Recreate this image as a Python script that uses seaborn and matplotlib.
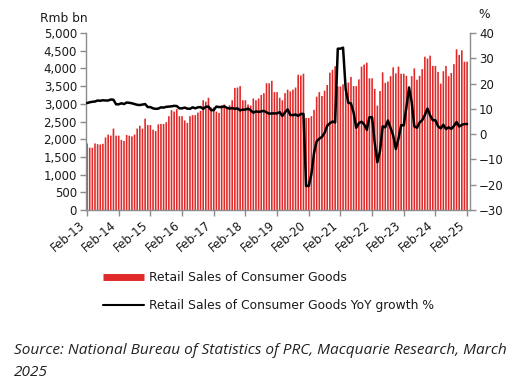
import numpy as np
import pandas as pd
import matplotlib
matplotlib.use('Agg')
import matplotlib.pyplot as plt
from matplotlib.lines import Line2D
import matplotlib.transforms as mtransforms
import seaborn as sns

# ---- data, monthly from Feb-13 to Feb-25 ----
sales_2013 = [1880, 1760, 1760, 1880, 1860, 1850, 1870, 2050, 2130, 2100, 2300]
sales_2014 = [2100, 2100, 1980, 1950, 2120, 2100, 2080, 2130, 2300, 2380, 2300, 2580]
sales_2015 = [2400, 2400, 2270, 2230, 2420, 2430, 2430, 2480, 2650, 2820, 2780, 2850]
sales_2016 = [2650, 2650, 2530, 2460, 2650, 2680, 2680, 2750, 2800, 3100, 3060, 3170]
sales_2017 = [2900, 2900, 2780, 2740, 2960, 2980, 2900, 2960, 3100, 3450, 3460, 3500]
sales_2018 = [3100, 3100, 2980, 2950, 3150, 3100, 3150, 3250, 3300, 3580, 3580, 3650]
sales_2019 = [3330, 3330, 3170, 3100, 3300, 3400, 3350, 3400, 3460, 3820, 3800, 3850]
sales_2020 = [2600, 2600, 2650, 2830, 3200, 3330, 3220, 3370, 3530, 3880, 3960, 4060]
sales_2021 = [3490, 3490, 3550, 3320, 3600, 3760, 3500, 3500, 3690, 4050, 4110, 4160]
sales_2022 = [3720, 3720, 3420, 2950, 3360, 3890, 3590, 3630, 3780, 4030, 3860, 4050]
sales_2023 = [3850, 3850, 3790, 3490, 3780, 4000, 3680, 3790, 3980, 4330, 4280, 4360]
sales_2024 = [4070, 4070, 3900, 3570, 3920, 4070, 3780, 3870, 4120, 4540, 4380, 4510]
sales_2025 = [4190, 4190]

yoy_2013 = [12.3, 12.6, 12.8, 12.9, 13.3, 13.2, 13.4, 13.3, 13.3, 13.7, 13.6]
yoy_2014 = [11.8, 11.8, 12.2, 11.9, 12.5, 12.4, 12.2, 11.9, 11.6, 11.5, 11.7, 11.9]
yoy_2015 = [10.7, 10.7, 10.2, 10.0, 10.1, 10.6, 10.5, 10.8, 10.9, 11.0, 11.2, 11.1]
yoy_2016 = [10.2, 10.2, 10.5, 10.1, 10.0, 10.6, 10.2, 10.6, 10.7, 10.0, 10.8, 10.9]
yoy_2017 = [9.5, 9.5, 10.9, 10.7, 10.7, 11.0, 10.4, 10.1, 10.3, 10.0, 10.2, 9.4]
yoy_2018 = [9.7, 9.7, 10.1, 9.4, 8.5, 9.0, 8.8, 9.0, 9.2, 8.6, 8.1, 8.2]
yoy_2019 = [8.2, 8.2, 8.7, 7.2, 8.6, 9.8, 7.6, 7.5, 7.8, 7.2, 8.0, 8.0]
yoy_2020 = [-20.5, -20.5, -15.8, -7.5, -2.8, -1.8, -1.1, 0.5, 3.3, 4.3, 5.0, 4.6]
yoy_2021 = [33.8, 33.8, 34.2, 17.7, 12.4, 12.1, 8.5, 2.5, 4.4, 4.9, 3.9, 1.7]
yoy_2022 = [6.7, 6.7, -3.5, -11.1, -6.7, 3.1, 2.7, 5.4, 2.5, -0.5, -5.9, -1.8]
yoy_2023 = [3.5, 3.5, 10.6, 18.4, 12.7, 3.1, 2.5, 4.6, 5.5, 7.6, 10.1, 7.4]
yoy_2024 = [5.5, 5.5, 3.1, 2.3, 3.7, 2.0, 2.7, 2.1, 3.2, 4.8, 3.0, 3.7]
yoy_2025 = [4.0, 4.0]

tick_labels = ['Feb-13', 'Feb-14', 'Feb-15', 'Feb-16', 'Feb-17', 'Feb-18', 'Feb-19',
               'Feb-20', 'Feb-21', 'Feb-22', 'Feb-23', 'Feb-24', 'Feb-25']

bar_label = 'Retail Sales of Consumer Goods'
line_label = 'Retail Sales of Consumer Goods YoY growth %'
source_line1 = 'Source: National Bureau of Statistics of PRC, Macquarie Research, March'
source_line2 = '2025'

sales = (sales_2013 + sales_2014 + sales_2015 + sales_2016 + sales_2017 + sales_2018
         + sales_2019 + sales_2020 + sales_2021 + sales_2022 + sales_2023 + sales_2024 + sales_2025)
yoy = (yoy_2013 + yoy_2014 + yoy_2015 + yoy_2016 + yoy_2017 + yoy_2018
       + yoy_2019 + yoy_2020 + yoy_2021 + yoy_2022 + yoy_2023 + yoy_2024 + yoy_2025)

months = pd.date_range('2013-02-01', periods=len(sales), freq='MS').strftime('%b-%y')
df = pd.DataFrame({'month': months, 'sales': sales, 'yoy': yoy})
df['pos'] = np.arange(len(df))

# ---- style ----
sns.set_style('ticks')
plt.rcParams['font.family'] = ['DejaVu Sans']
RED = '#e02a2a'
GREY = '#8c8c8c'
TXT = '#1a1a1a'

fig = plt.figure(figsize=(5.23, 3.84), dpi=100)
ax = fig.add_axes([86 / 523, 1 - 210 / 384, (470 - 86) / 523, (210 - 33) / 384])

sns.barplot(data=df, x='month', y='sales', color=RED, saturation=1, width=0.62,
            linewidth=0, ax=ax)
for p in ax.patches:
    p.set_snap(False)
ax2 = ax.twinx()
sns.lineplot(data=df, x='pos', y='yoy', color='black', lw=1.8, ax=ax2)

ax.set_xlim(-0.4, len(df) + 0.1)
ax.set_ylim(0, 5000)
ax.set_yticks(np.arange(0, 5001, 500))
ax.set_yticklabels([f'{v:,}' for v in range(0, 5001, 500)])
ax2.set_ylim(-30, 40)
ax2.set_yticks(np.arange(-30, 41, 10))

ax.set_xticks(np.arange(0, len(df), 12))
ax.set_xticklabels(tick_labels, rotation=40, ha='right')
shift = mtransforms.ScaledTranslation(10 / 100, 0, fig.dpi_scale_trans)
for lab in ax.get_xticklabels():
    lab.set_transform(lab.get_transform() + shift)
ax.set_xlabel('')
ax.set_ylabel('')
ax2.set_xlabel('')
ax2.set_ylabel('')

for a in (ax, ax2):
    a.spines['top'].set_visible(False)
    for s in ('left', 'right', 'bottom'):
        a.spines[s].set_color(GREY)
        a.spines[s].set_linewidth(1.0)
    a.tick_params(colors=GREY, labelcolor=TXT, labelsize=8.5, length=4, width=1, pad=2.5)
ax.spines['right'].set_visible(False)
ax2.spines['left'].set_visible(False)
ax2.spines['bottom'].set_visible(False)

fig.text(40 / 523, 1 - 19 / 384, 'Rmb bn', fontsize=8.8, color=TXT, ha='left', va='center')
fig.text(478 / 523, 1 - 14 / 384, '%', fontsize=8.8, color=TXT, ha='left', va='center')

handles = [Line2D([0], [0], color=RED, lw=5, solid_capstyle='butt'),
           Line2D([0], [0], color='black', lw=1.5)]
leg = fig.legend(handles, [bar_label, line_label], loc='upper left',
                 bbox_to_anchor=(103 / 523, 1 - 271 / 384), frameon=False, fontsize=8.9,
                 handlelength=3.3, handletextpad=0.4, labelspacing=1.2, borderaxespad=0,
                 borderpad=0)
for t in leg.get_texts():
    t.set_color(TXT)

fig.text(14 / 523, 1 - 350 / 384, source_line1, fontsize=11.1, style='italic',
         family=['Open Sans', 'DejaVu Sans'], ha='left', va='center', color='#222222')
fig.text(14 / 523, 1 - 373 / 384, source_line2, fontsize=11.1, style='italic',
         family=['Open Sans', 'DejaVu Sans'], ha='left', va='center', color='#222222')

fig.savefig('out.png', dpi=100)
